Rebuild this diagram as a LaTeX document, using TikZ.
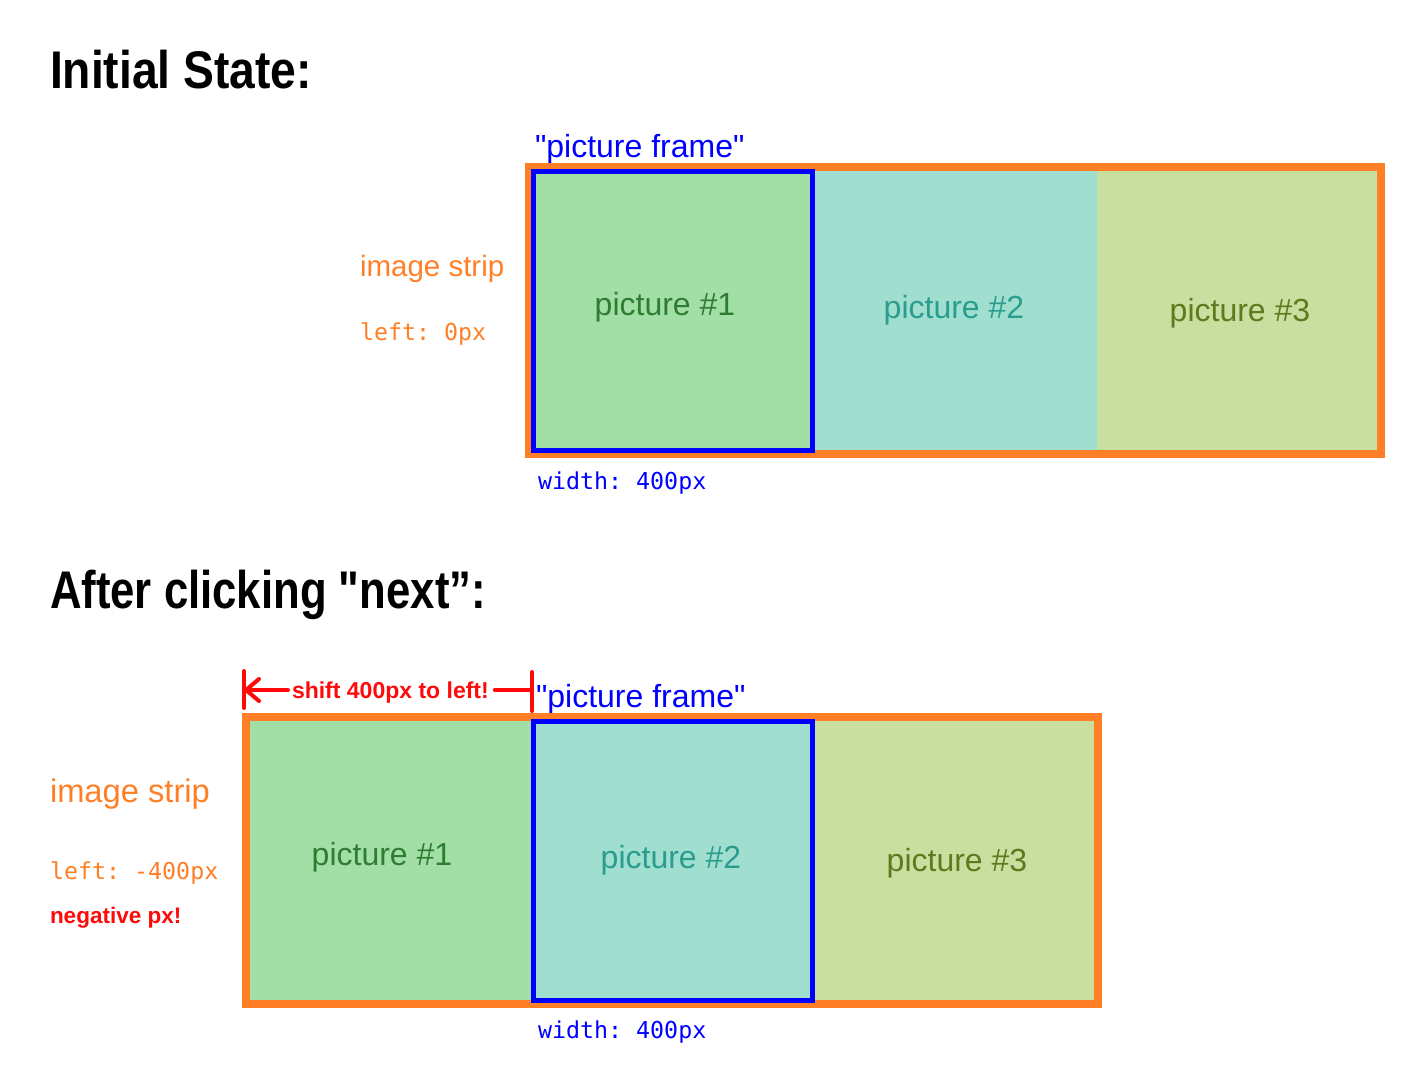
\documentclass[tikz,border=0pt]{standalone}
\usepackage{fontspec}
\setmainfont{Liberation Sans}
\setmonofont{DejaVu Sans Mono}
\usetikzlibrary{arrows.meta}
\definecolor{stripOrange}{HTML}{FF7F27}
\definecolor{frameBlue}{HTML}{0000FF}
\definecolor{fillA}{HTML}{A2DFA6}
\definecolor{fillB}{HTML}{A0DFD0}
\definecolor{fillC}{HTML}{C9DF9F}
\definecolor{textA}{HTML}{2E7D32}
\definecolor{textB}{HTML}{2A9D8F}
\definecolor{textC}{HTML}{5F7A1E}
\definecolor{warnRed}{HTML}{FF0A0A}
\newcommand{\sq}{\textquotedbl}
\begin{document}
\begin{tikzpicture}[x=1pt,y=-1pt,
  txt/.style={inner sep=0pt, outer sep=0pt, anchor=base west},
  heading/.style={txt, font=\fontsize{53}{60}\selectfont\bfseries},
  framelbl/.style={txt, text=frameBlue, font=\fontsize{32}{38}\selectfont},
  striplbl/.style={txt, text=stripOrange, font=\fontsize{29.5}{34}\selectfont},
  monolbl/.style={txt, font=\fontsize{23.3}{28}\selectfont\ttfamily},
  pictxt/.style={inner sep=0pt, anchor=base, font=\fontsize{32}{38}\selectfont},
  warnlbl/.style={txt, text=warnRed, font=\fontsize{23}{28}\selectfont\bfseries},
  orangeframe/.style={draw=stripOrange, line width=8pt},
  blueframe/.style={draw=frameBlue, line width=5pt},
  redline/.style={draw=warnRed, line width=4pt, line cap=round},
]
\useasboundingbox[fill=white] (0,0) rectangle (1422,1087);

% ---------- Initial state ----------
\node[heading] (h1) at (50,88) {\resizebox{262pt}{\height}{Initial State:}};
\node[framelbl] (pf1) at (535,157) {\sq picture frame\sq};
\node[striplbl] (is1) at (360,276) {image strip};
\node[monolbl, text=stripOrange] (lf1) at (360,340) {left: 0px};

\fill[fillA] (529,167) rectangle (815,454);
\fill[fillB] (815,167) rectangle (1097,454);
\fill[fillC] (1097,167) rectangle (1381,454);
\draw[orangeframe] (529,167) rectangle (1381,454);
\draw[blueframe] (533.5,171.5) rectangle (812.5,450.5);

\node[pictxt, text=textA] (p11) at (665,315) {picture \#1};
\node[pictxt, text=textB] (p12) at (954,318) {picture \#2};
\node[pictxt, text=textC] (p13) at (1240,321) {picture \#3};

\node[monolbl, text=frameBlue] (w1) at (538,489) {width: 400px};

% ---------- After clicking next ----------
\node[heading] (h2) at (50,608) {\resizebox{436pt}{\height}{After clicking \sq next”:}};

\coordinate (barL) at (244,690);
\coordinate (barR) at (532,690);
\node[warnlbl] (shift) at (292,698) {shift 400px to left!};
\draw[redline] (244,671) -- (244,708);
\draw[redline] (532,672) -- (532,711);
\draw[redline, shorten <=4pt, -{Straight Barb[length=13pt,width=22pt,round]}] (barL -| shift.west) -- (barL);
\draw[redline, shorten <=6pt] (barR -| shift.east) -- (barR);

\node[framelbl] (pf2) at (536,707) {\sq picture frame\sq};

\node[striplbl, font=\fontsize{32.7}{38}\selectfont] (is2) at (50,802) {image strip};
\node[monolbl, text=stripOrange] (lf2) at (50,879) {left: -400px};
\node[warnlbl, font=\fontsize{22.5}{27}\selectfont\bfseries] (neg) at (50,923) {negative px!};

\fill[fillA] (246,717) rectangle (532,1004);
\fill[fillB] (532,717) rectangle (814,1004);
\fill[fillC] (814,717) rectangle (1098,1004);
\draw[orangeframe] (246,717) rectangle (1098,1004);
\draw[blueframe] (533.5,721.5) rectangle (812.5,1000.5);

\node[pictxt, text=textA] (p21) at (382,865) {picture \#1};
\node[pictxt, text=textB] (p22) at (671,868) {picture \#2};
\node[pictxt, text=textC] (p23) at (957,871) {picture \#3};

\node[monolbl, text=frameBlue] (w2) at (538,1038) {width: 400px};
\end{tikzpicture}
\end{document}
